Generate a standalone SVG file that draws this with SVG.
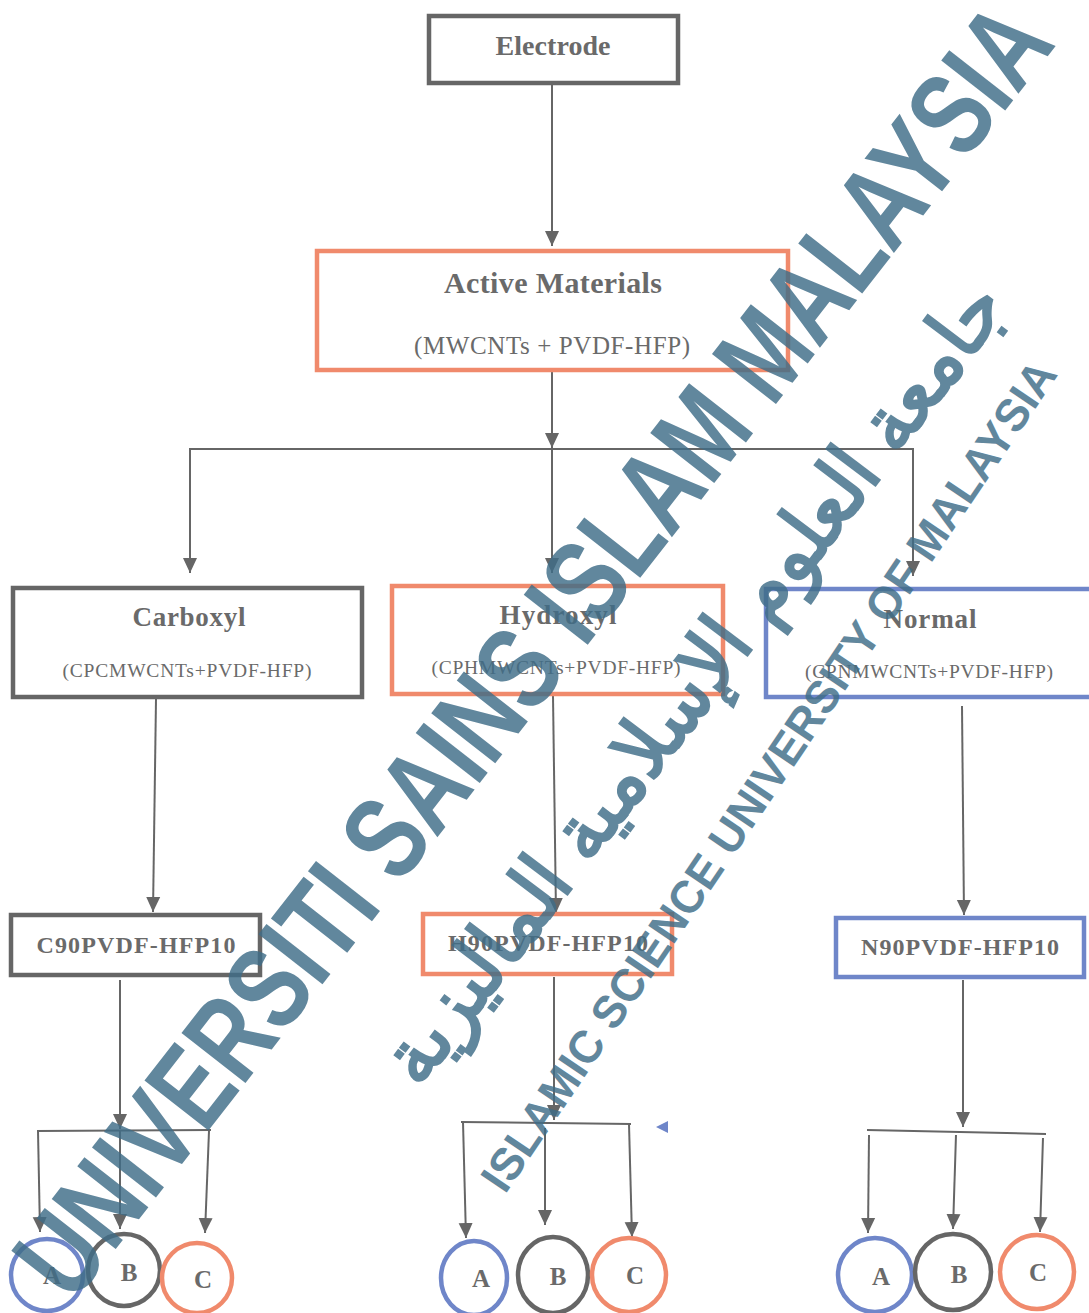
<svg xmlns="http://www.w3.org/2000/svg" width="1089" height="1313" viewBox="0 0 1089 1313">
<defs>
<marker id="ah" markerUnits="userSpaceOnUse" markerWidth="16" markerHeight="16" viewBox="0 0 16 16" refX="15" refY="8" orient="auto">
<path d="M0,1 L15,8 L0,15 Z" fill="#666"/>
</marker>
<style>
.box{fill:#fff;stroke-width:4.5}
.g{stroke:#666}
.o{stroke:#f08a6c}
.b{stroke:#6f86c9}
.t{font-family:"Liberation Serif","Times New Roman",serif;fill:#6a6a6a;text-anchor:middle}
.h{font-weight:bold}
.c{fill:none;stroke-width:4.5}
.ln{fill:none;stroke:#666;stroke-width:2}
.wm{font-family:"Liberation Sans",Arial,sans-serif;font-weight:bold;fill:#3f6d88;opacity:0.82}
</style>
</defs>
<rect width="1089" height="1313" fill="#fff"/>

<g id="connectors">
<line class="ln" x1="552" y1="84" x2="552" y2="246" marker-end="url(#ah)"/>
<line class="ln" x1="552" y1="370" x2="552" y2="448" marker-end="url(#ah)"/>
<line class="ln" x1="189" y1="449" x2="914" y2="449"/>
<line class="ln" x1="190" y1="449" x2="190" y2="573" marker-end="url(#ah)"/>
<line class="ln" x1="552" y1="449" x2="552" y2="573" marker-end="url(#ah)"/>
<line class="ln" x1="913" y1="449" x2="913" y2="576" marker-end="url(#ah)"/>
<line class="ln" x1="156" y1="699" x2="153" y2="912" marker-end="url(#ah)"/>
<line class="ln" x1="553" y1="696" x2="556" y2="913" marker-end="url(#ah)"/>
<line class="ln" x1="962" y1="706" x2="964" y2="915" marker-end="url(#ah)"/>
<line class="ln" x1="120" y1="980" x2="120" y2="1129" marker-end="url(#ah)"/>
<line class="ln" x1="37" y1="1131" x2="211" y2="1130"/>
<line class="ln" x1="38" y1="1131" x2="40" y2="1232" marker-end="url(#ah)"/>
<line class="ln" x1="120" y1="1131" x2="120" y2="1229" marker-end="url(#ah)"/>
<line class="ln" x1="209" y1="1131" x2="205" y2="1233" marker-end="url(#ah)"/>
<line class="ln" x1="554" y1="977" x2="554" y2="1120" marker-end="url(#ah)"/>
<line class="ln" x1="461" y1="1122" x2="631" y2="1124"/>
<line class="ln" x1="463" y1="1122" x2="466" y2="1238" marker-end="url(#ah)"/>
<line class="ln" x1="545" y1="1128" x2="545" y2="1225" marker-end="url(#ah)"/>
<line class="ln" x1="629" y1="1124" x2="632" y2="1237" marker-end="url(#ah)"/>
<line class="ln" x1="963" y1="980" x2="963" y2="1127" marker-end="url(#ah)"/>
<line class="ln" x1="867" y1="1130" x2="1046" y2="1134"/>
<line class="ln" x1="869" y1="1135" x2="868" y2="1233" marker-end="url(#ah)"/>
<line class="ln" x1="956" y1="1135" x2="953" y2="1229" marker-end="url(#ah)"/>
<line class="ln" x1="1043" y1="1138" x2="1040" y2="1232" marker-end="url(#ah)"/>
<path d="M668,1121 L656,1127 L668,1133 Z" fill="#6f86c9"/>
</g>

<g id="electrode">
<rect class="box g" x="429" y="16" width="249" height="67"/>
<text class="t h" x="553" y="55" font-size="28" textLength="115" lengthAdjust="spacing">Electrode</text>
</g>

<g id="active">
<rect class="box o" x="317" y="251" width="471" height="119"/>
<text class="t h" x="553" y="293" font-size="30" textLength="218" lengthAdjust="spacing">Active Materials</text>
<text class="t" x="552" y="354" font-size="25" textLength="276" lengthAdjust="spacing">(MWCNTs + PVDF-HFP)</text>
</g>

<g id="carboxyl">
<rect class="box g" x="13" y="588" width="349" height="109"/>
<text class="t h" x="189" y="626" font-size="27" textLength="113" lengthAdjust="spacing">Carboxyl</text>
<text class="t" x="187" y="677" font-size="19.5" textLength="249" lengthAdjust="spacing">(CPCMWCNTs+PVDF-HFP)</text>
</g>

<g id="hydroxyl">
<rect class="box o" x="392" y="586" width="331" height="108"/>
<text class="t h" x="558" y="624" font-size="27" textLength="117" lengthAdjust="spacing">Hydroxyl</text>
<text class="t" x="556" y="674" font-size="19.5" textLength="249" lengthAdjust="spacing">(CPHMWCNTs+PVDF-HFP)</text>
</g>

<g id="normal">
<rect class="box b" x="766" y="589" width="330" height="108"/>
<text class="t h" x="930" y="628" font-size="27" textLength="93" lengthAdjust="spacing">Normal</text>
<text class="t" x="929" y="678" font-size="19.5" textLength="248" lengthAdjust="spacing">(CPNMWCNTs+PVDF-HFP)</text>
</g>

<g id="c90">
<rect class="box g" x="11" y="915" width="249" height="60"/>
<text class="t h" x="136" y="953" font-size="24" textLength="199" lengthAdjust="spacing">C90PVDF-HFP10</text>
</g>

<g id="h90">
<rect class="box o" x="423" y="914" width="249" height="60"/>
<text class="t h" x="548" y="951" font-size="24" textLength="200" lengthAdjust="spacing">H90PVDF-HFP10</text>
</g>

<g id="n90">
<rect class="box b" x="836" y="918" width="248" height="59"/>
<text class="t h" x="960" y="955" font-size="24" textLength="198" lengthAdjust="spacing">N90PVDF-HFP10</text>
</g>

<g id="c-a"><circle class="c b" cx="47" cy="1275" r="36"/><text class="t h" x="52" y="1284" font-size="25">A</text></g>
<g id="c-b"><circle class="c g" cx="124" cy="1270" r="36"/><text class="t h" x="129" y="1281" font-size="25">B</text></g>
<g id="c-c"><circle class="c o" cx="197" cy="1278" r="35"/><text class="t h" x="203" y="1288" font-size="25">C</text></g>

<g id="h-a"><ellipse class="c b" cx="474" cy="1278" rx="33" ry="37"/><text class="t h" x="481" y="1287" font-size="25">A</text></g>
<g id="h-b"><ellipse class="c g" cx="553" cy="1275" rx="35" ry="38"/><text class="t h" x="558" y="1285" font-size="25">B</text></g>
<g id="h-c"><circle class="c o" cx="629" cy="1275" r="37"/><text class="t h" x="635" y="1284" font-size="25">C</text></g>

<g id="n-a"><circle class="c b" cx="875" cy="1275" r="37"/><text class="t h" x="881" y="1285" font-size="25">A</text></g>
<g id="n-b"><circle class="c g" cx="953" cy="1272" r="38"/><text class="t h" x="959" y="1283" font-size="25">B</text></g>
<g id="n-c"><circle class="c o" cx="1037" cy="1272" r="37"/><text class="t h" x="1038" y="1281" font-size="25">C</text></g>

<g id="watermark">
<text class="wm" font-size="118" transform="translate(72,1305) rotate(-52)" textLength="1600" lengthAdjust="spacingAndGlyphs">UNIVERSITI SAINS ISLAM MALAYSIA</text>
<text class="wm" font-size="46" font-weight="normal" transform="translate(505,1195) rotate(-56)" textLength="990" lengthAdjust="spacingAndGlyphs">ISLAMIC SCIENCE UNIVERSITY OF MALAYSIA</text>
<text class="wm" font-family="DejaVu Sans, sans-serif" font-size="80" transform="translate(420,1090) rotate(-53)" textLength="980" lengthAdjust="spacingAndGlyphs">جامعة العلوم الإسلامية الماليزية</text>
</g>
</svg>
